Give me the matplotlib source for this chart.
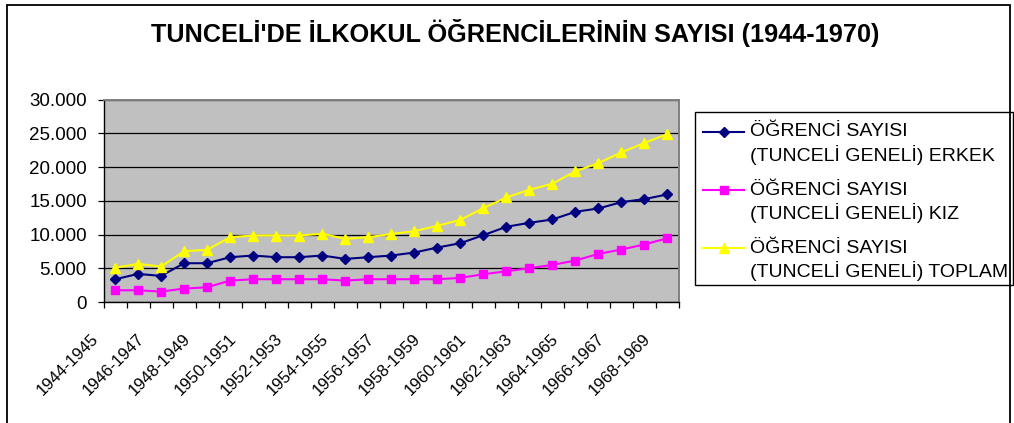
import matplotlib
matplotlib.use("Agg")
import matplotlib.pyplot as plt
from matplotlib.patches import Rectangle
from matplotlib.lines import Line2D
from matplotlib.ticker import FuncFormatter, MultipleLocator
from matplotlib.transforms import ScaledTranslation

plt.rcParams['font.family'] = ['Liberation Sans', 'DejaVu Sans']

# ---------------- data ----------------
years = ["1944-1945", "1945-1946", "1946-1947", "1947-1948", "1948-1949",
         "1949-1950", "1950-1951", "1951-1952", "1952-1953", "1953-1954",
         "1954-1955", "1955-1956", "1956-1957", "1957-1958", "1958-1959",
         "1959-1960", "1960-1961", "1961-1962", "1962-1963", "1963-1964",
         "1964-1965", "1965-1966", "1966-1967", "1967-1968", "1968-1969"]
erkek = [3400, 4200, 3900, 5780, 5780, 6670, 6920, 6670, 6670, 6920,
         6420, 6670, 6920, 7360, 8100, 8740, 9930, 11170, 11760, 12250,
         13390, 13880, 14820, 15270, 15960]
kiz = [1780, 1780, 1580, 2030, 2220, 3210, 3410, 3410, 3410, 3410,
       3210, 3410, 3410, 3410, 3410, 3610, 4150, 4590, 5040, 5530,
       6180, 7160, 7810, 8550, 9490]
toplam = [5100, 5680, 5290, 7560, 7760, 9630, 9880, 9880, 9880, 10130,
          9390, 9630, 10100, 10520, 11310, 12200, 13930, 15510, 16650, 17540,
          19370, 20600, 22180, 23570, 24900]
series_labels = ["ÖĞRENCİ SAYISI\n(TUNCELİ GENELİ) ERKEK",
                 "ÖĞRENCİ SAYISI\n(TUNCELİ GENELİ) KIZ",
                 "ÖĞRENCİ SAYISI\n(TUNCELİ GENELİ) TOPLAM"]
title = "TUNCELİ'DE İLKOKUL ÖĞRENCİLERİNİN SAYISI (1944-1970)"

W, H = 1014, 423
fig = plt.figure(figsize=(W / 100, H / 100), dpi=100)


def fx(x):
    return x / W


def fy(y):
    return 1 - y / H


# outer frame
fig.add_artist(Rectangle((fx(7), fy(440)), fx(1010) - fx(7), fy(5) - fy(440),
                         transform=fig.transFigure, fill=False,
                         edgecolor='black', linewidth=1.3))

L, R, T, B = 103.5, 679, 99.5, 302.3
ax = fig.add_axes([fx(L), fy(B), fx(R) - fx(L), fy(T) - fy(B)])
ax.set_facecolor('#C0C0C0')

x = list(range(len(years)))
styles = [
    dict(color='#000080', marker='D', ms=5.2),
    dict(color='#FF00FF', marker='s', ms=6.2),
    dict(color='#FFFF00', marker='^', ms=7.5),
]
for vals, st in zip([erkek, kiz, toplam], styles):
    ax.plot(x, vals, color=st['color'], lw=1.5, marker=st['marker'],
            ms=st['ms'], mfc=st['color'], mec=st['color'], zorder=3,
            clip_on=False)

ax.set_xlim(-0.5, len(years) - 0.5)
ax.set_ylim(0, 30000)
ax.yaxis.set_major_locator(MultipleLocator(5000))
ax.yaxis.set_major_formatter(FuncFormatter(
    lambda v, p: f"{v:,.0f}".replace(",", ".")))
ax.grid(axis='y', color='black', linewidth=0.9, zorder=1)
ax.set_axisbelow(True)

ax.tick_params(axis='y', direction='out', length=4, width=0.9,
               labelsize=13.5, pad=8)
ax.set_xticks([i - 0.5 for i in range(len(years) + 1)])
ax.set_xticklabels([])
ax.tick_params(axis='x', direction='out', length=4.5, width=0.9)

for s in ['left', 'bottom']:
    ax.spines[s].set_color('black')
    ax.spines[s].set_linewidth(1.0)
for s in ['top', 'right']:
    ax.spines[s].set_color('#808080')
    ax.spines[s].set_linewidth(1.4)

off = ScaledTranslation(-14 / 100, -29 / 100, fig.dpi_scale_trans)
for i in range(0, len(years), 2):
    ax.text(i, 0, years[i], transform=ax.transData + off, rotation=45,
            ha='right', va='top', fontsize=12)

fig.text(fx(515), fy(33), title, ha='center', va='center',
         fontsize=18.2, fontweight='bold')

# legend (Excel style: symbol beside first line of each entry)
fig.add_artist(Rectangle((fx(694.5), fy(285)), fx(1013.3) - fx(694.5),
                         fy(112.3) - fy(285), transform=fig.transFigure,
                         fill=False, edgecolor='black', linewidth=1.0))
entry_y = [132, 190, 248]
for lab, st, ey in zip(series_labels, styles, entry_y):
    fig.add_artist(Line2D([fx(703), fx(744)], [fy(ey), fy(ey)],
                          transform=fig.transFigure, color=st['color'],
                          lw=1.5))
    fig.add_artist(Line2D([fx(723.5)], [fy(ey)], transform=fig.transFigure,
                          color=st['color'], marker=st['marker'],
                          ms=st['ms'], mfc=st['color'], mec=st['color']))
    l1, l2 = lab.split("\n")
    fig.text(fx(750), fy(ey), l1, ha='left', va='center', fontsize=14)
    fig.text(fx(750), fy(ey + 23.3), l2, ha='left', va='center', fontsize=14)

fig.savefig("out.png", dpi=100)
